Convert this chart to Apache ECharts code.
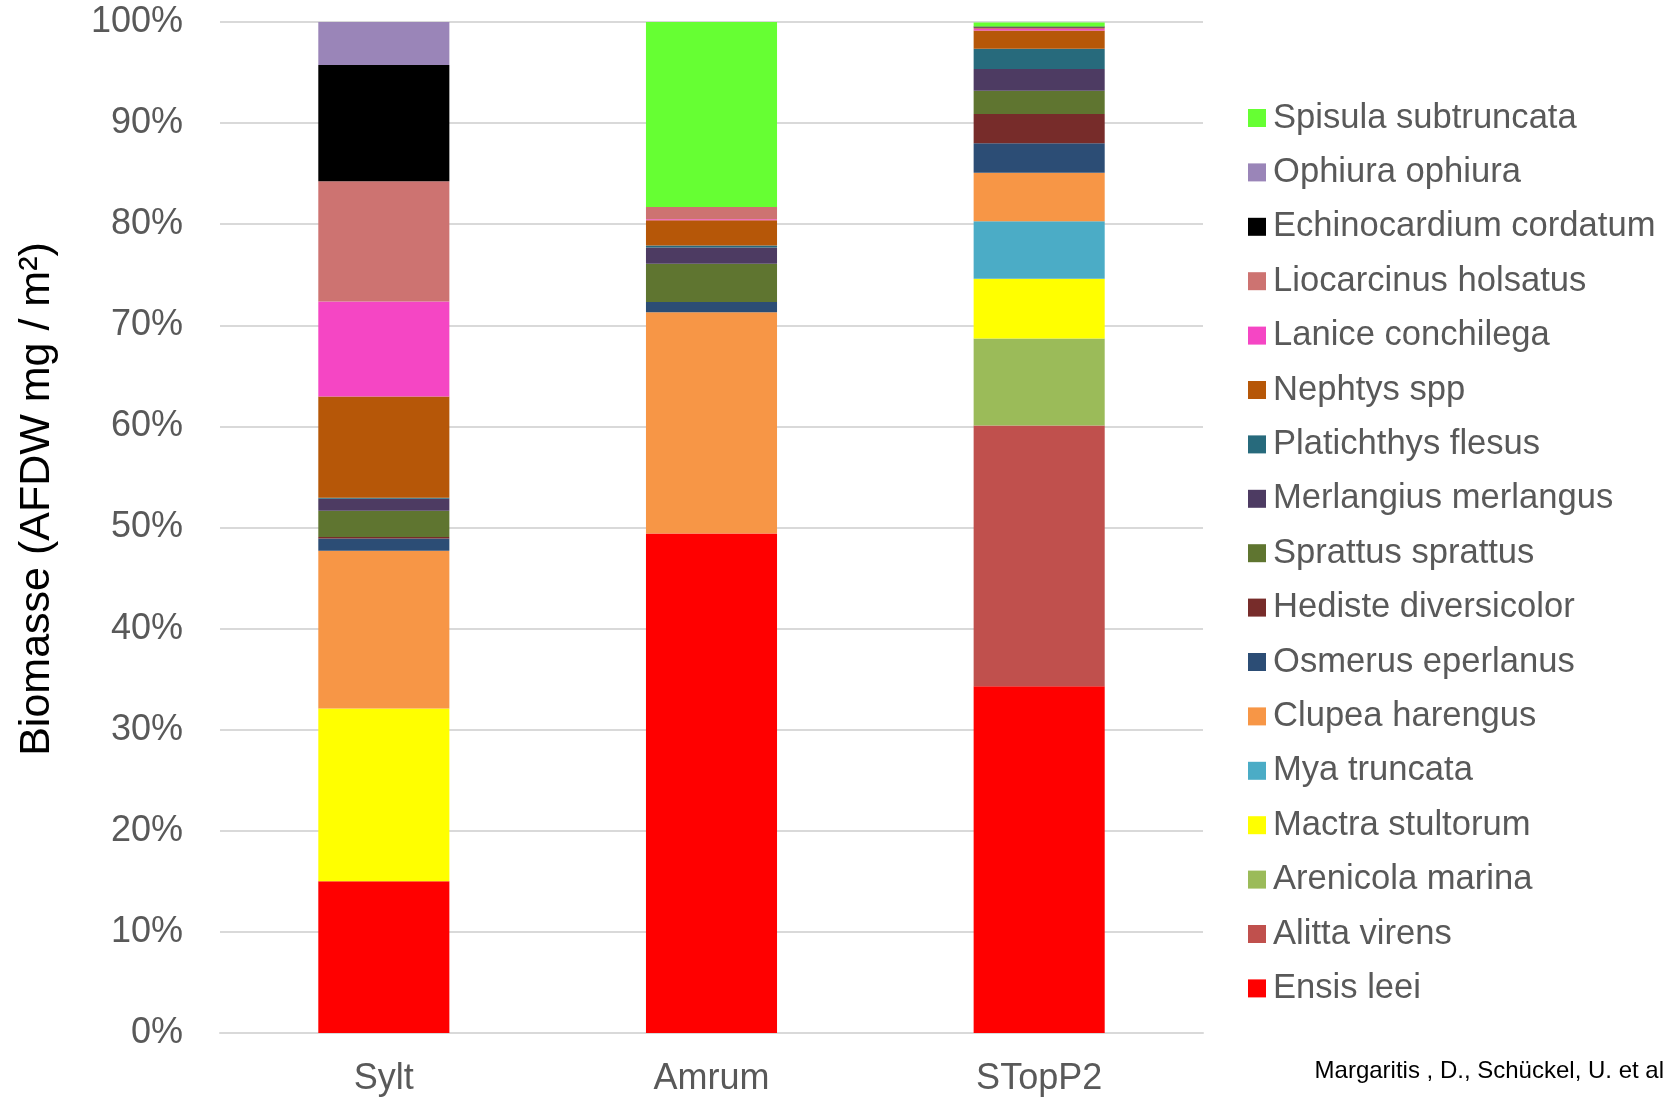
<!DOCTYPE html>
<html>
<head>
<meta charset="utf-8">
<script src="https://cdn.jsdelivr.net/npm/echarts@6/dist/echarts.min.js"></script>
<style>
  html, body { margin: 0; padding: 0; background: #fff; }
  #main { width: 1664px; height: 1097px; }
</style>
</head>
<body>
<div id="main"></div>
<script>
// Biomasse-Anteile je Station (gestapelt, in %)
var stations = ["Sylt", "Amrum", "STopP2"];
var yTicks = [0, 10, 20, 30, 40, 50, 60, 70, 80, 90, 100];

// Reihenfolge = Stapel von unten nach oben
var species = ["Ensis leei", "Alitta virens", "Arenicola marina", "Mactra stultorum", "Mya truncata",
	"Clupea harengus", "Osmerus eperlanus", "Hediste diversicolor", "Sprattus sprattus",
	"Merlangius merlangus", "Platichthys flesus", "Nephtys spp", "Lanice conchilega",
	"Liocarcinus holsatus", "Echinocardium cordatum", "Ophiura ophiura", "Spisula subtruncata"];

// Werte je Art: [Sylt, Amrum, STopP2]
var ensis        = [15.0, 49.4, 34.3];
var alitta       = [0, 0, 25.8];
var arenicola    = [0, 0, 8.6];
var mactra       = [17.1, 0, 5.9];
var mya          = [0, 0, 5.7];
var clupea       = [15.6, 21.9, 4.8];
var osmerus      = [1.2, 1.0, 2.9];
var hediste      = [0.15, 0, 2.9];
var sprattus     = [2.6, 3.8, 2.3];
var merlangius   = [1.2, 1.6, 2.15];
var platichthys  = [0.1, 0.2, 2.0];
var nephtys      = [10.0, 2.5, 1.8];
var lanice       = [9.4, 0.1, 0.15];
var liocarcinus  = [11.9, 1.2, 0.15];
var echinocard   = [11.5, 0, 0.1];
var ophiura      = [4.3, 0, 0];
var spisula      = [0, 18.4, 0.4];

var values = [ensis, alitta, arenicola, mactra, mya, clupea, osmerus, hediste, sprattus,
	merlangius, platichthys, nephtys, lanice, liocarcinus, echinocard, ophiura, spisula];

var colors = ["#FF0000", "#C0504D", "#9BBB59", "#FFFF00", "#4BACC6", "#F79646", "#2C4D75",
	"#772C2A", "#5F7530", "#4D3B62", "#276A7C", "#B65708", "#F546C4", "#CD7371",
	"#000000", "#9A85B8", "#66FF33"];

var series = [];
for (var i = 0; i < species.length; i++) {
	series.push({
		name: species[i],
		type: 'bar',
		stack: 'total',
		barWidth: '40%',
		data: values[i],
		itemStyle: { color: colors[i] }
	});
}

var myChart = echarts.init(document.getElementById('main'));
myChart.setOption({
	animation: false,
	color: colors,
	textStyle: { fontFamily: "Liberation Sans, Arial, sans-serif" },
	grid: { left: 220, right: 461, top: 22, bottom: 64, containLabel: false, outerBoundsMode: 'none' },
	legend: {
		data: species.slice().reverse(),
		orient: 'vertical',
		left: 1243,
		top: 93,
		icon: 'rect',
		itemWidth: 18,
		itemHeight: 18,
		itemGap: 14.4,
		textStyle: {
			color: "#595959",
			fontSize: 34.6,
			lineHeight: 40,
			padding: [0, 0, 0, 2]
		}
	},
	xAxis: {
		type: 'category',
		data: stations,
		axisTick: { show: false },
		axisLine: { lineStyle: { color: "#D9D9D9", width: 2 } },
		axisLabel: { color: "#595959", fontSize: 36, margin: 28 }
	},
	yAxis: {
		type: 'value',
		min: yTicks[0],
		max: yTicks[yTicks.length - 1],
		interval: 10,
		axisLabel: { color: "#595959", fontSize: 36, margin: 37, padding: [4, 0, 0, 0], formatter: '{value}%' },
		splitLine: { lineStyle: { color: "#D9D9D9", width: 2 } },
		axisLine: { show: false },
		axisTick: { show: false }
	},
	graphic: [{
		// Achsentitel (gedreht)
		type: 'text',
		x: 37,
		y: 499,
		rotation: Math.PI / 2,
		style: {
			text: "Biomasse (AFDW mg / m²)",
			fill: "#000",
			font: "43px 'Liberation Sans', Arial, sans-serif",
			align: 'center',
			verticalAlign: 'middle'
		}
	}, {
		type: 'text',
		right: 0,
		top: 1059,
		style: {
			text: "Margaritis , D., Schückel, U. et al",
			fill: "#000",
			font: "24px 'Liberation Sans', Arial, sans-serif"
		}
	}],
	series: series
});
</script>
</body>
</html>
